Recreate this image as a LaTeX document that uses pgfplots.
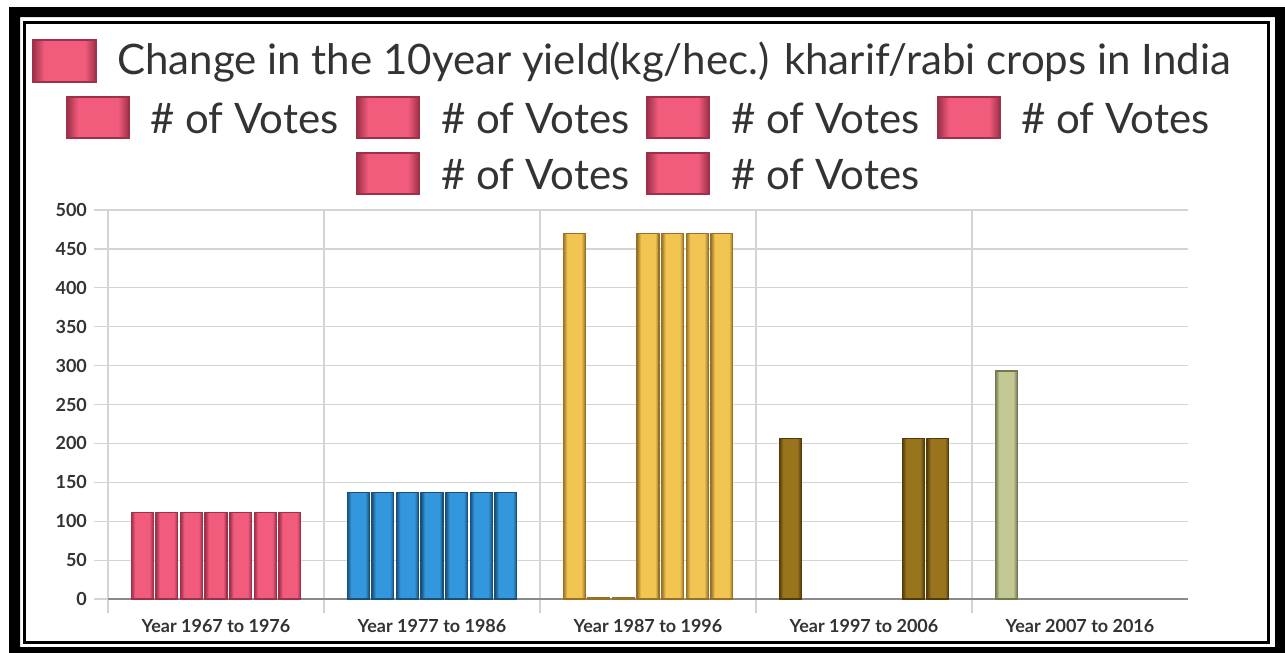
\documentclass[border=0pt]{standalone}
\usepackage{pgfplots}
\pgfplotsset{compat=1.18}
\usepackage{pgfplotstable}
\usepackage{fontspec}
\setmainfont{Lato}

\definecolor{txt}{HTML}{333333}
\definecolor{gridc}{HTML}{D4D4D4}
\definecolor{axisc}{HTML}{8A8A8A}
\definecolor{pinkL}{HTML}{F25C7C}
\definecolor{pinkD}{HTML}{9E3049}
\definecolor{blueL}{HTML}{3397DD}
\definecolor{blueD}{HTML}{1A4F7A}
\definecolor{yelL}{HTML}{F2C452}
\definecolor{yelD}{HTML}{977226}
\definecolor{brnL}{HTML}{98741C}
\definecolor{brnD}{HTML}{523C0A}
\definecolor{olvL}{HTML}{C4C994}
\definecolor{olvD}{HTML}{747850}

% dark edge, flat centre
\pgfdeclarehorizontalshading{sh-pink}{100bp}{color(0bp)=(pinkD); color(25bp)=(pinkD); color(34bp)=(pinkL); color(66bp)=(pinkL); color(75bp)=(pinkD); color(100bp)=(pinkD)}
\pgfdeclarehorizontalshading{sh-blue}{100bp}{color(0bp)=(blueD); color(25bp)=(blueD); color(34bp)=(blueL); color(66bp)=(blueL); color(75bp)=(blueD); color(100bp)=(blueD)}
\pgfdeclarehorizontalshading{sh-yel}{100bp}{color(0bp)=(yelD); color(25bp)=(yelD); color(34bp)=(yelL); color(66bp)=(yelL); color(75bp)=(yelD); color(100bp)=(yelD)}
\pgfdeclarehorizontalshading{sh-brn}{100bp}{color(0bp)=(brnD); color(25bp)=(brnD); color(34bp)=(brnL); color(66bp)=(brnL); color(75bp)=(brnD); color(100bp)=(brnD)}
\pgfdeclarehorizontalshading{sh-olv}{100bp}{color(0bp)=(olvD); color(25bp)=(olvD); color(34bp)=(olvL); color(66bp)=(olvL); color(75bp)=(olvD); color(100bp)=(olvD)}

% one row per period, one column per series
\pgfplotstableread{
x s1 s2 s3 s4 s5 s6 s7
0 111 111 111 111 111 111 111
1 137 137 137 137 137 137 137
2 470 2 2 470 470 470 470
3 206 0 0 0 0 206 206
4 293 0 0 0 0 0 0
}\yielddata

\pgfplotsset{
  cat0/.style={shade, shading=sh-pink, draw=pinkD, line width=0.6pt},
  cat1/.style={shade, shading=sh-blue, draw=blueD, line width=0.6pt},
  cat2/.style={shade, shading=sh-yel, draw=yelD, line width=0.6pt},
  cat3/.style={shade, shading=sh-brn, draw=brnD, line width=0.6pt},
  cat4/.style={shade, shading=sh-olv, draw=olvD, line width=0.6pt},
  onlycat/.style={x filter/.expression={abs(x-#1)<0.1 ? x : nan},
                  y filter/.expression={y==0 ? nan : y}},
}

\begin{document}
\begin{tikzpicture}
\begin{scope}[x=0.5pt, y=-0.5pt]
  \path (0,0) rectangle (1285,653);
  % frame
  \fill[black, even odd rule] (9,7) rectangle (1285,653) (20,17) rectangle (1275,647);
  \draw[black, line width=1.5pt] (24.5,22.5) rectangle (1268,642);
  % legend
  \tikzset{sw/.style={shade, shading=sh-pink, draw=pinkD, line width=0.6pt},
           lt/.style={anchor=west, inner sep=0pt, text=txt, font=\fontsize{21}{23}\selectfont}}
  \path[sw] (33,40) rectangle (96,82);
  \node[lt] at (117,62) {Change in the 10year yield(kg/hec.) kharif/rabi crops in India};
  \foreach \sx/\tx in {67/150, 357/441, 647/731, 938/1021} {
    \path[sw] (\sx,97) rectangle (\sx+62,138);
    \node[lt] at (\tx,118) {\# of Votes};
  }
  \foreach \sx/\tx in {357/441, 647/731} {
    \path[sw] (\sx,153) rectangle (\sx+62,194);
    \node[lt] at (\tx,174) {\# of Votes};
  }
\end{scope}

\begin{axis}[
  at={(54pt,-299.5pt)}, anchor=south west,
  scale only axis, width=540pt, height=194.5pt,
  ybar, bar width=11pt,
  xmin=-0.5, xmax=4.5, ymin=0, ymax=500,
  ytick={0,50,...,500},
  xtick={-0.5,0.5,1.5,2.5,3.5}, xticklabels={},
  extra x ticks={0,1,2,3,4},
  extra x tick labels={Year 1967 to 1976,Year 1977 to 1986,Year 1987 to 1996,Year 1997 to 2006,Year 2007 to 2016},
  extra x tick style={grid=none, major tick length=0pt,
    xticklabel style={yshift=-6.5pt}},
  xmajorgrids, ymajorgrids,
  grid style={draw=gridc, line width=0.6pt},
  axis lines*=left, axis line style={-},
  x axis line style={draw=axisc, line width=0.8pt},
  y axis line style={draw=none},
  tick align=outside, major tick length=7pt,
  tick style={draw=gridc, line width=0.6pt},
  ticklabel style={font=\bfseries\fontsize{9}{10}\selectfont, text=txt},
  /pgf/number format/assume math mode=true,
]
\pgfplotsinvokeforeach{0,...,4}{
  \addplot[cat#1, onlycat=#1, bar shift=-36.9pt] table[x=x, y=s1] {\yielddata};
  \addplot[cat#1, onlycat=#1, bar shift=-24.6pt] table[x=x, y=s2] {\yielddata};
  \addplot[cat#1, onlycat=#1, bar shift=-12.3pt] table[x=x, y=s3] {\yielddata};
  \addplot[cat#1, onlycat=#1, bar shift=0pt] table[x=x, y=s4] {\yielddata};
  \addplot[cat#1, onlycat=#1, bar shift=12.3pt] table[x=x, y=s5] {\yielddata};
  \addplot[cat#1, onlycat=#1, bar shift=24.6pt] table[x=x, y=s6] {\yielddata};
  \addplot[cat#1, onlycat=#1, bar shift=36.9pt] table[x=x, y=s7] {\yielddata};
}
\end{axis}
\end{tikzpicture}
\end{document}
